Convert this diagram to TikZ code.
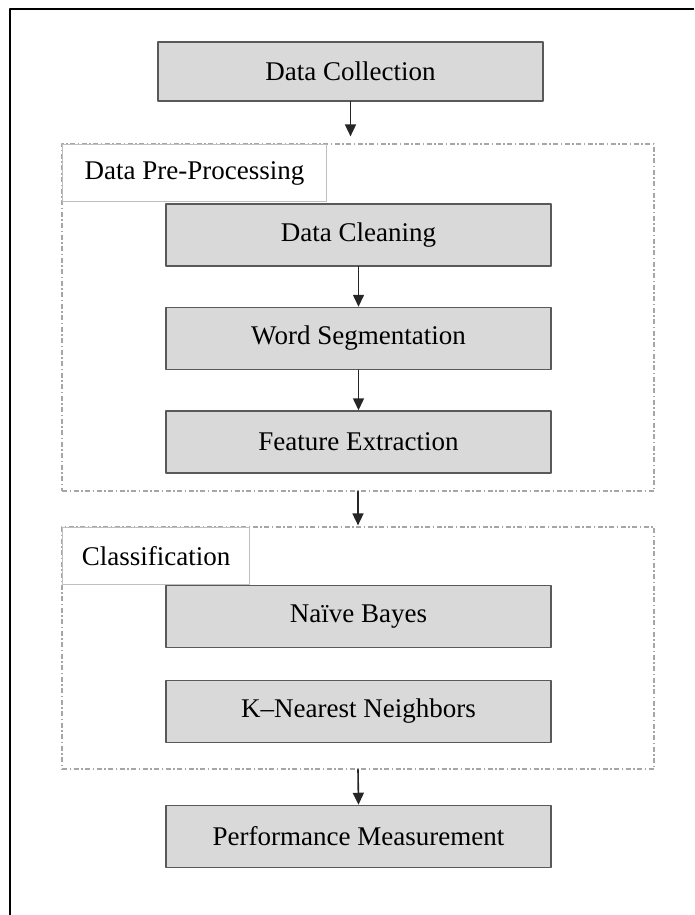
\documentclass[tikz,border=0pt]{standalone}
\usepackage{fontspec}
\setmainfont{Liberation Serif}
\usetikzlibrary{arrows.meta}

\begin{document}
\begin{tikzpicture}[line cap=round,line join=round,>={Triangle[length=12pt,width=11pt]},x=1pt,y=-1pt,
	stepbox/.style={draw=black!65,line width=1.5pt,fill=black!15,minimum width=385pt,minimum height=62pt,inner sep=0pt,font=\fontsize{27}{32}\selectfont},
	groupbox/.style={draw=black!35,line width=1.2pt,line cap=butt,dash pattern=on 5pt off 2.5pt on 1.5pt off 2.5pt,minimum width=592pt,inner sep=0pt},
	tagbox/.style={draw=black!25,line width=1pt,fill=white,minimum height=57pt,inner sep=0pt,anchor=north west,font=\fontsize{27}{32}\selectfont},
	flow/.style={->,line width=1.6pt,color=black!85}]
	\useasboundingbox (0,0) rectangle (694,915);
	% outer frame (cut off at the right)
	\draw [line width=2.5pt,line cap=butt] (10,915)-- (10,9)-- (694,9);
	% groups
	\node[groupbox,minimum height=347pt] (pre) at (358,317.5) {};
	\node[groupbox,minimum height=242pt] (cls) at (358,648) {};
	\node[tagbox,minimum width=264pt] (pretag) at (62,144) {Data Pre-Processing};
	\node[tagbox,minimum width=187pt] (clstag) at (62,527) {Classification};
	% steps
	\node[stepbox,minimum height=59pt] (coll) at (350.5,71.5) {Data Collection};
	\node[stepbox] (clean) at (358.5,235) {Data Cleaning};
	\node[stepbox] (seg) at (358.5,338.5) {Word Segmentation};
	\node[stepbox] (feat) at (358.5,442) {Feature Extraction};
	\node[stepbox] (nb) at (358.5,616.5) {Naïve Bayes};
	\node[stepbox] (knn) at (358.5,711.5) {K–Nearest Neighbors};
	\node[stepbox] (perf) at (358.5,836.5) {Performance Measurement};
	% arrows
	\draw [flow,shorten >=7pt] (coll.south)-- (coll.south |- pre.north);
	\draw [flow] (clean)-- (seg);
	\draw [flow] (seg)-- (feat);
	\draw [flow,shorten >=1pt] (pre.south)-- (cls.north);
	\draw [flow] (cls.south)-- (perf.north);
\end{tikzpicture}
\end{document}
